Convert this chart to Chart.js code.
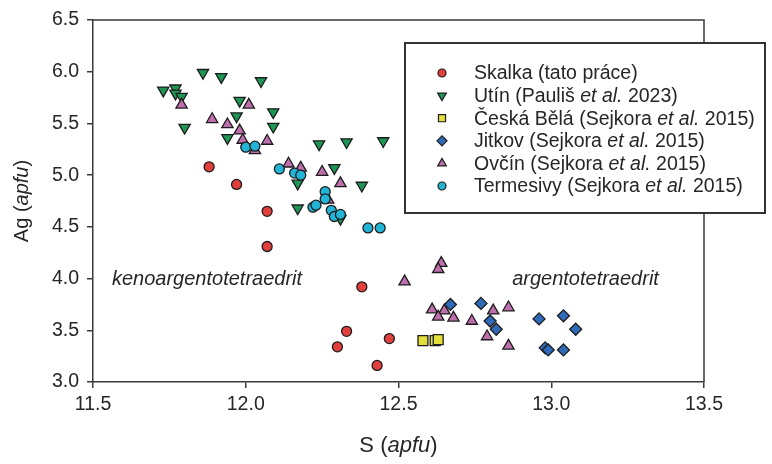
<!DOCTYPE html>
<html>
<head>
<meta charset="utf-8">
<script src="https://cdn.jsdelivr.net/npm/chart.js@4.4.1/dist/chart.umd.min.js"></script>
<style>
    body { margin: 0; background: #fff; }
    #wrap { width: 772px; height: 464px; }
</style>
</head>
<body>
<div id="wrap"><canvas id="chart" width="772" height="464"></canvas></div>
<script>
// --- Data: [S, Ag] in apfu ---
const skalka = [[11.88, 5.08], [11.97, 4.91], [12.07, 4.65], [12.07, 4.31], [12.38, 3.92],
    [12.33, 3.49], [12.30, 3.34], [12.47, 3.42], [12.43, 3.16]];
const utin = [[11.86, 5.99], [11.92, 5.95], [12.05, 5.91], [11.73, 5.82], [11.77, 5.84],
    [11.77, 5.79], [11.79, 5.76], [11.98, 5.72], [12.09, 5.61], [11.97, 5.57], [11.80, 5.46],
    [12.09, 5.47], [11.94, 5.36], [12.24, 5.30], [12.33, 5.32], [12.45, 5.33], [12.29, 5.07],
    [12.17, 4.92], [12.38, 4.90], [12.17, 4.68], [12.31, 4.58]];
const ceskaBela = [[12.58, 3.40], [12.62, 3.40], [12.63, 3.41]];
const jitkov = [[12.67, 3.75], [12.77, 3.76], [12.80, 3.59], [12.82, 3.51], [12.96, 3.61],
    [13.04, 3.64], [13.08, 3.51], [12.98, 3.33], [12.99, 3.31], [13.04, 3.31]];
const ovcin = [[11.79, 5.68], [12.01, 5.68], [11.89, 5.54], [11.94, 5.49], [11.98, 5.43],
    [11.99, 5.34], [12.07, 5.33], [12.03, 5.24], [12.14, 5.11], [12.18, 5.07], [12.25, 5.03],
    [12.31, 4.92], [12.27, 4.76], [12.64, 4.15], [12.63, 4.09], [12.52, 3.97], [12.61, 3.70],
    [12.65, 3.69], [12.63, 3.63], [12.68, 3.62], [12.74, 3.59], [12.81, 3.69], [12.86, 3.72],
    [12.79, 3.44], [12.86, 3.35]];
const termesivy = [[12.00, 5.27], [12.03, 5.28], [12.11, 5.06], [12.16, 5.02], [12.18, 5.00],
    [12.26, 4.84], [12.26, 4.77], [12.22, 4.69], [12.23, 4.71], [12.28, 4.66], [12.29, 4.60],
    [12.31, 4.62], [12.40, 4.49], [12.44, 4.49]];

const xTicks = [11.5, 12.0, 12.5, 13.0, 13.5];
const yTicks = [3.0, 3.5, 4.0, 4.5, 5.0, 5.5, 6.0, 6.5];

// legend texts, italic pieces marked with i
const legendLabels = [
    ['Skalka (tato práce)'],
    ['Utín (Pauliš ', { i: 'et al.' }, ' 2023)'],
    ['Česká Bělá (Sejkora ', { i: 'et al.' }, ' 2015)'],
    ['Jitkov (Sejkora ', { i: 'et al.' }, ' 2015)'],
    ['Ovčín (Sejkora ', { i: 'et al.' }, ' 2015)'],
    ['Termesivy (Sejkora ', { i: 'et al.' }, ' 2015)']
];

// field names placed in data units (left edge, baseline)
const fieldLabels = [
    { text: 'kenoargentotetraedrit', s: 11.562, ag: 3.94 },
    { text: 'argentotetraedrit', s: 12.872, ag: 3.94 }
];

const FONT = "'Liberation Sans', Arial, sans-serif";
const INK = '#262626';
const AXIS = '#3a3a3a';

const toPoints = arr => arr.map(([x, y]) => ({ x, y }));

const makeSet = (label, data, color, style, radius, rotation, order) => ({
    label,
    data: toPoints(data),
    backgroundColor: color,
    borderColor: '#1c1c1c',
    borderWidth: 1.3,
    pointStyle: style,
    pointRadius: radius,
    pointRotation: rotation,
    order
});

const datasets = [
    makeSet(legendLabels[0], skalka, '#e2403c', 'circle', 5, 0, 4),
    makeSet(legendLabels[1], utin, '#1d9656', 'triangle', 6.5, 180, 6),
    makeSet(legendLabels[2], ceskaBela, '#e4df3a', 'rect', 7, 0, 3),
    makeSet(legendLabels[3], jitkov, '#2f6ab8', 'rectRot', 6, 0, 2),
    makeSet(legendLabels[4], ovcin, '#bf6eae', 'triangle', 6.5, 0, 5),
    makeSet(legendLabels[5], termesivy, '#22b4d6', 'circle', 5, 0, 1)
];

// text with normal / italic parts
const drawParts = (ctx, parts, x, y, size, align) => {
    const pieces = parts.map(p => typeof p === 'string' ? { t: p, it: false } : { t: p.i, it: true });
    const fontOf = it => (it ? 'italic ' : '') + size + 'px ' + FONT;
    let total = 0;
    pieces.forEach(p => { ctx.font = fontOf(p.it); p.w = ctx.measureText(p.t).width; total += p.w; });
    let cx = align === 'center' ? x - total / 2 : x;
    ctx.textAlign = 'left';
    pieces.forEach(p => { ctx.font = fontOf(p.it); ctx.fillText(p.t, cx, y); cx += p.w; });
};

const decorations = {
    id: 'decorations',
    afterDraw(chart) {
        const { ctx, chartArea: a, scales } = chart;
        ctx.save();

        // top and right frame lines
        ctx.strokeStyle = AXIS;
        ctx.lineWidth = 1.5;
        ctx.beginPath();
        ctx.moveTo(a.left, a.top);
        ctx.lineTo(a.right, a.top);
        ctx.lineTo(a.right, a.bottom);
        ctx.stroke();

        // axis titles
        ctx.fillStyle = INK;
        ctx.textBaseline = 'middle';
        drawParts(ctx, ['S (', { i: 'apfu' }, ')'], (a.left + a.right) / 2, 446, 22, 'center');
        ctx.save();
        ctx.translate(22, (a.top + a.bottom) / 2);
        ctx.rotate(-Math.PI / 2);
        drawParts(ctx, ['Ag (', { i: 'apfu' }, ')'], 0, 0, 20, 'center');
        ctx.restore();

        // field names
        ctx.textBaseline = 'alphabetic';
        fieldLabels.forEach(f => {
            drawParts(ctx, [{ i: f.text }], scales.x.getPixelForValue(f.s), scales.y.getPixelForValue(f.ag), 20, 'left');
        });

        // legend box
        const box = { x: 405, y: 43, w: 360, h: 170 };
        ctx.fillStyle = '#fff';
        ctx.fillRect(box.x, box.y, box.w, box.h);
        ctx.strokeStyle = '#333';
        ctx.lineWidth = 2;
        ctx.strokeRect(box.x, box.y, box.w, box.h);

        ctx.textBaseline = 'middle';
        chart.data.datasets.forEach((ds, i) => {
            const y = 73 + i * 22.6;
            ctx.fillStyle = ds.backgroundColor;
            ctx.strokeStyle = ds.borderColor;
            ctx.lineWidth = 1.2;
            Chart.helpers.drawPoint(ctx, {
                pointStyle: ds.pointStyle,
                radius: ds.pointStyle === 'circle' ? 4 : (ds.pointStyle === 'rect' ? 5 : 5),
                rotation: ds.pointRotation,
                borderWidth: 1.2
            }, 442, y);
            ctx.fillStyle = INK;
            drawParts(ctx, ds.label, 474, y + 1, 19.5, 'left');
        });

        ctx.restore();
    }
};

new Chart(document.getElementById('chart'), {
    type: 'scatter',
    data: { datasets },
    options: {
        responsive: false,
        animation: false,
        layout: { padding: { top: 20, right: 68, left: 0, bottom: 0 } },
        plugins: { legend: { display: false }, tooltip: { enabled: false } },
        scales: {
            x: {
                type: 'linear',
                min: 11.5,
                max: 13.5,
                afterFit: s => { s.height = 82; },
                afterBuildTicks: s => { s.ticks = xTicks.map(v => ({ value: v })); },
                border: { display: true, color: AXIS, width: 1.5 },
                grid: { display: true, drawOnChartArea: false, drawTicks: true, tickLength: 6, color: AXIS, lineWidth: 1.5 },
                ticks: { color: INK, padding: 5, font: { family: FONT, size: 19.5 }, callback: v => v.toFixed(1) }
            },
            y: {
                type: 'linear',
                min: 3.0,
                max: 6.5,
                afterFit: s => { s.width = 93; },
                afterBuildTicks: s => { s.ticks = yTicks.map(v => ({ value: v })); },
                border: { display: true, color: AXIS, width: 1.5 },
                grid: { display: true, drawOnChartArea: false, drawTicks: true, tickLength: 6, color: AXIS, lineWidth: 1.5 },
                ticks: { color: INK, padding: 8, font: { family: FONT, size: 19.5 }, callback: v => v.toFixed(1) }
            }
        }
    },
    plugins: [decorations]
});
</script>
</body>
</html>
